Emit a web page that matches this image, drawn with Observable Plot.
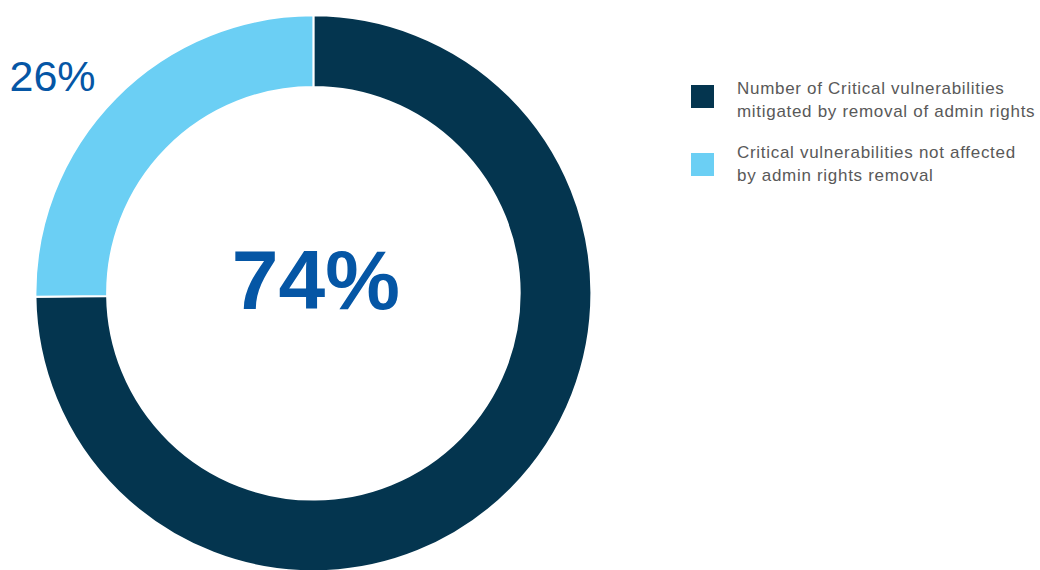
<!DOCTYPE html>
<html>
<head>
<meta charset="utf-8">
<script src="https://cdn.jsdelivr.net/npm/d3@7"></script>
<script src="https://cdn.jsdelivr.net/npm/@observablehq/plot@0.6"></script>
<style>
  html, body { margin: 0; padding: 0; background: #ffffff; }
  #wrap { position: relative; width: 1040px; height: 570px; overflow: hidden; font-family: Arial, "Liberation Sans", sans-serif; }
  #legend { position: absolute; left: 691px; top: 0; width: 349px; }
  .item { position: absolute; left: 0; width: 349px; }
  .swatch { position: absolute; left: 0; width: 23px; height: 23px; }
  .label { position: absolute; left: 46px; white-space: nowrap; font-size: 17px; letter-spacing: 0.7px; line-height: 23px; color: #595959; }
</style>
</head>
<body>
<div id="wrap"></div>
<script>
// ---- data ----
const categories = [
  "Number of Critical vulnerabilities mitigated by removal of admin rights",
  "Critical vulnerabilities not affected by admin rights removal"
];
const legendLines = [
  ["Number of Critical vulnerabilities", "mitigated by removal of admin rights"],
  ["Critical vulnerabilities not affected", "by admin rights removal"]
];
const shares = [74.8, 25.2];          // slice sizes as drawn (percent)
const shareLabels = ["74%", "26%"];   // printed labels
const colors = ["#04354f", "#6bcff4"];

const data = categories.map((c, i) => ({category: c, share: shares[i], label: shareLabels[i], color: colors[i]}));

// ---- donut mark (custom render using Plot's x/y scales) ----
function donut(index, scales, values, dimensions) {
  const sx = scales.x, sy = scales.y;
  const cx = sx(0), cy = sy(0);
  const R = Math.abs(sx(1) - sx(0));
  const r = R * 0.742;
  const pie = d3.pie().value(d => d.share).sort(null).startAngle(0).endAngle(2 * Math.PI);
  const arc = d3.arc().innerRadius(r).outerRadius(R);
  const g = d3.create("svg:g").attr("transform", `translate(${cx},${cy})`);
  g.selectAll("path")
    .data(pie(data))
    .join("path")
    .attr("d", arc)
    .attr("fill", d => d.data.color)
    .attr("stroke", "#ffffff")
    .attr("stroke-width", 2)
    .attr("stroke-linejoin", "miter");
  return g.node();
}

const plot = Plot.plot({
  width: 1040,
  height: 570,
  margin: 0,
  x: {domain: [-1, 1], range: [35.4, 591.4], axis: null},
  y: {domain: [-1, 1], range: [571.3, 15.3], axis: null},
  style: {fontFamily: "Arial, 'Liberation Sans', sans-serif", background: "#ffffff"},
  marks: [
    donut,
    Plot.text([data[0]], {
      x: () => 0, y: () => 0, text: "label",
      fontSize: 84, fontWeight: "bold", fill: "#0556a5",
      textAnchor: "middle", lineAnchor: "bottom", dx: 2, dy: 15
    }),
    Plot.text([data[1]], {
      frameAnchor: "top-left", text: "label",
      fontSize: 43, fill: "#0556a5",
      textAnchor: "start", lineAnchor: "bottom", dx: 9, dy: 90
    })
  ]
});

const wrap = document.getElementById("wrap");
wrap.appendChild(plot);

// ---- legend ----
const legend = document.createElement("div");
legend.id = "legend";
const itemTops = [85, 153];
const labelTops = [-8.5, -12.5];
data.forEach((d, i) => {
  const item = document.createElement("div");
  item.className = "item";
  item.style.top = itemTops[i] + "px";
  const sw = document.createElement("div");
  sw.className = "swatch";
  sw.style.top = "0px";
  sw.style.background = d.color;
  const lab = document.createElement("div");
  lab.className = "label";
  lab.style.top = labelTops[i] + "px";
  lab.innerHTML = legendLines[i].join("<br>");
  item.appendChild(sw);
  item.appendChild(lab);
  legend.appendChild(item);
});
wrap.appendChild(legend);
</script>
</body>
</html>
